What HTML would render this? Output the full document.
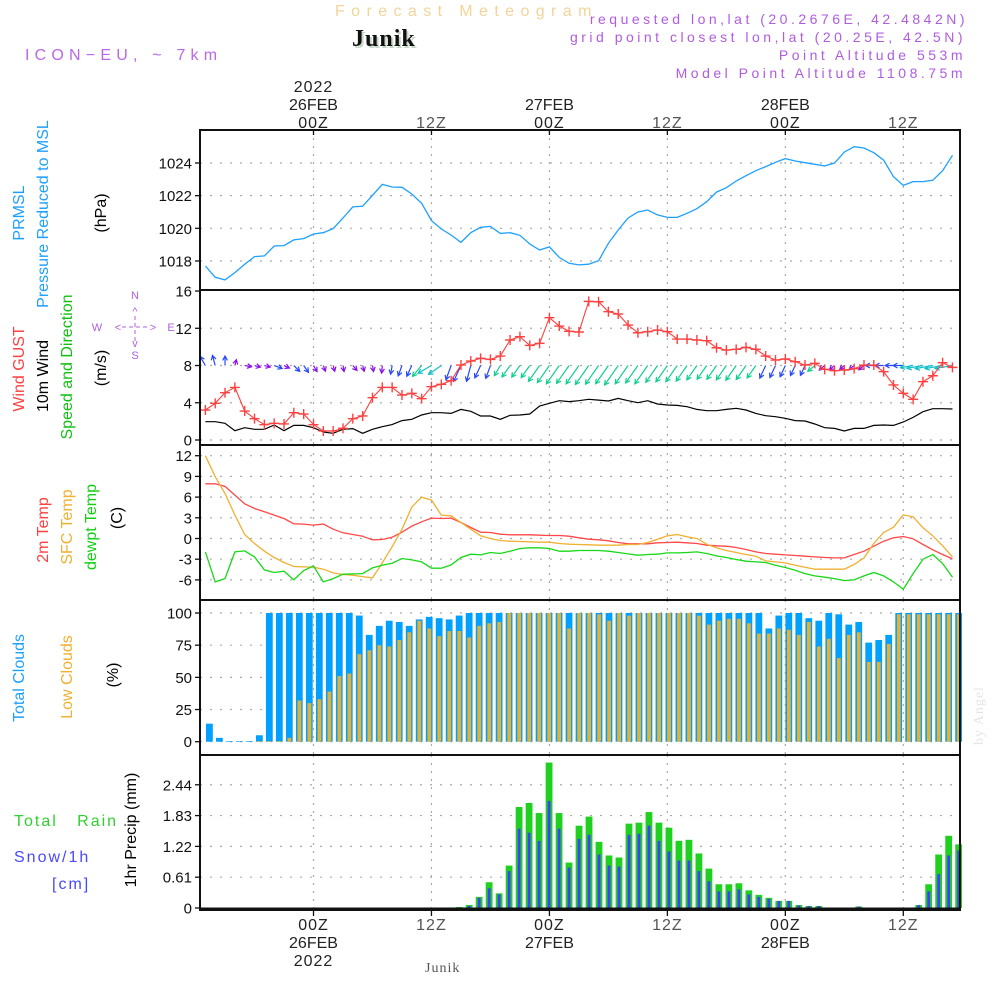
<!DOCTYPE html>
<html><head><meta charset="utf-8">
<style>
html,body{margin:0;padding:0;background:#fff;}
svg{display:block;font-family:"Liberation Sans",sans-serif;}
</style></head>
<body>
<svg id="chart" width="1000" height="1000" viewBox="0 0 1000 1000" xmlns="http://www.w3.org/2000/svg">
<rect width="1000" height="1000" fill="#fff"/>
<!-- header -->
<text x="335" y="16" font-size="16" fill="#f2d49a" letter-spacing="6.4">Forecast Meteogram</text>
<text x="354" y="48" font-size="24" font-weight="bold" font-family="Liberation Serif,serif" fill="#c8d8c8" letter-spacing="1">Junik</text>
<text x="352" y="46" font-size="24" font-weight="bold" font-family="Liberation Serif,serif" fill="#111" letter-spacing="1">Junik</text>
<text x="25" y="60" font-size="16" fill="#b868e8" letter-spacing="5.2">ICON−EU, ~ 7km</text>
<g font-size="14" fill="#b05ce0" text-anchor="end" letter-spacing="3.5">
<text x="968" y="24">requested lon,lat (20.2676E, 42.4842N)</text>
<text x="966" y="42">grid point closest lon,lat (20.25E, 42.5N)</text>
<text x="966" y="60">Point Altitude 553m</text>
<text x="966" y="78">Model Point Altitude 1108.75m</text>
</g>
<text x="425" y="972" font-size="14" font-family="Liberation Serif,serif" fill="#555" letter-spacing="1">Junik</text>
<text transform="translate(983,745) rotate(-90)" font-size="14" font-family="Liberation Serif,serif" fill="#e4e4e4" letter-spacing="1">by Angel</text>

<!-- left labels -->
<g font-size="16" text-anchor="middle">
<text transform="translate(24,213) rotate(-90)" fill="#1ea0ff">PRMSL</text>
<text transform="translate(48,214) rotate(-90)" fill="#1ea0ff">Pressure Reduced to MSL</text>
<text transform="translate(106,213) rotate(-90)" fill="#000">(hPa)</text>
<text transform="translate(24,369) rotate(-90)" fill="#ff4040">Wind GUST</text>
<text transform="translate(48,376) rotate(-90)" fill="#000">10m Wind</text>
<text transform="translate(72,367) rotate(-90)" fill="#10c010">Speed and Direction</text>
<text transform="translate(106,368) rotate(-90)" fill="#000">(m/s)</text>
<text transform="translate(48,530) rotate(-90)" fill="#ff4040">2m Temp</text>
<text transform="translate(72,527) rotate(-90)" fill="#f0b030">SFC Temp</text>
<text transform="translate(96,527) rotate(-90)" fill="#10d010">dewpt Temp</text>
<text transform="translate(122,518) rotate(-90)" fill="#000">(C)</text>
<text transform="translate(24,678) rotate(-90)" fill="#1ea0ff">Total Clouds</text>
<text transform="translate(72,677) rotate(-90)" fill="#f0b030">Low Clouds</text>
<text transform="translate(118,675) rotate(-90)" fill="#000">(%)</text>
<text transform="translate(136,830) rotate(-90)" fill="#000">1hr Precip (mm)</text>
</g>
<g font-size="16" letter-spacing="2">
<text x="14" y="826" fill="#30d030" xml:space="preserve">Total   Rain</text>
<text x="14" y="862" fill="#4848ff">Snow/1h</text>
<text x="52" y="889" fill="#4848ff">[cm]</text>
</g>
<g font-size="11" fill="#b060e0" text-anchor="middle">
<text x="135" y="299">N</text>
<text x="135" y="359">S</text>
<text x="97" y="331">W</text>
<text x="171" y="331">E</text>
<text x="135" y="315">^</text>
<text x="135" y="347">v</text>
<text x="118" y="331">&lt;</text>
<text x="153" y="331">&gt;</text>
<line x1="122" y1="327" x2="148" y2="327" stroke="#b060e0" stroke-dasharray="4,3"/>
<line x1="135" y1="316" x2="135" y2="341" stroke="#b060e0" stroke-dasharray="4,3"/>
</g>
<g id="grid"></g>
<g id="marks"></g>
<g id="axes"></g>
</svg>
<script>
// ===== data =====
const hours = [];
for (let h = -11; h <= 65; h++) hours.push(h);
const pressure = [1017.69,1017.0,1016.84,1017.29,1017.8,1018.27,1018.31,1018.92,1018.94,1019.29,1019.37,1019.65,1019.73,1019.98,1020.63,1021.31,1021.35,1022.02,1022.69,1022.53,1022.51,1022.1,1021.53,1020.47,1019.96,1019.59,1019.14,1019.73,1020.06,1020.12,1019.69,1019.73,1019.57,1019.04,1018.67,1018.86,1018.22,1017.86,1017.76,1017.8,1018.02,1019.08,1019.9,1020.63,1021.0,1021.12,1020.82,1020.67,1020.67,1020.92,1021.2,1021.63,1022.22,1022.49,1022.9,1023.22,1023.53,1023.78,1024.04,1024.27,1024.12,1024.02,1023.92,1023.82,1024.0,1024.67,1025.0,1024.92,1024.63,1024.18,1023.16,1022.63,1022.86,1022.86,1022.94,1023.53,1024.47];
const gust = [3.22,3.94,5.08,5.65,3.11,2.29,1.65,1.79,1.72,2.93,2.79,1.65,0.97,0.97,1.25,2.29,2.58,4.55,5.65,5.65,4.83,5.01,4.44,5.73,5.98,6.37,8.05,8.48,8.77,8.66,9.02,10.74,11.1,10.16,10.38,13.14,12.24,11.67,11.6,14.89,14.85,13.78,13.53,12.35,11.52,11.63,11.81,11.63,10.84,10.84,10.74,10.67,9.91,9.66,9.74,9.95,9.74,9.02,8.59,8.7,8.41,8.05,8.23,7.59,7.44,7.52,7.66,8.05,8.05,7.34,5.91,5.01,4.37,6.26,6.9,8.3,7.8];
const windSpeed = [1.97,1.97,1.79,1.0,1.32,1.15,1.15,1.61,1.0,1.57,1.57,1.32,0.86,0.72,1.15,1.22,0.72,1.15,1.43,1.65,2.08,2.22,2.68,2.93,2.93,2.86,3.29,3.08,2.58,2.58,2.22,2.65,2.68,2.79,3.65,3.94,4.22,4.12,4.22,4.37,4.29,4.19,4.47,4.22,4.01,4.22,3.87,3.76,3.72,3.58,3.29,3.15,3.15,3.29,3.4,3.22,2.86,2.61,2.5,2.33,2.08,2.04,1.72,1.32,1.25,0.97,1.25,1.25,1.57,1.61,1.57,1.93,2.43,3.04,3.36,3.36,3.33];
const windDir = [150,165,180,195,280,285,285,290,295,315,325,330,340,345,350,320,345,350,5,10,20,25,40,60,55,20,25,15,25,20,30,35,35,35,35,35,35,35,35,35,35,35,35,35,35,35,35,35,35,35,35,35,35,35,35,35,35,25,25,25,25,25,50,50,50,50,50,50,90,90,90,90,80,80,80,80,80];
const temp2m = [7.93,7.93,7.55,6.29,5.03,4.35,3.87,3.39,2.9,2.13,2.08,1.94,2.08,1.35,0.82,0.58,0.34,-0.19,-0.15,0.19,0.92,1.79,2.42,2.95,2.9,2.95,2.32,1.6,0.92,0.87,0.63,0.53,0.53,0.53,0.48,0.44,0.44,0.34,0.1,-0.1,-0.19,-0.34,-0.58,-0.77,-0.77,-0.77,-0.63,-0.58,-0.53,-0.63,-0.73,-0.97,-1.06,-1.11,-1.31,-1.6,-1.94,-2.18,-2.27,-2.37,-2.47,-2.56,-2.66,-2.76,-2.81,-2.81,-2.32,-1.84,-1.11,-0.39,0.1,0.29,-0.05,-0.87,-1.64,-2.32,-2.95];
const tempSfc = [12.0,8.95,6.53,3.39,0.58,-0.73,-1.84,-2.76,-3.48,-4.06,-4.11,-4.16,-4.45,-4.98,-5.22,-5.32,-5.52,-5.71,-3.53,-1.21,1.35,4.55,6.0,5.56,3.39,3.29,2.32,1.35,0.39,0.0,-0.29,-0.39,-0.44,-0.48,-0.53,-0.53,-0.73,-0.82,-0.87,-0.92,-0.97,-0.97,-0.97,-0.87,-0.87,-0.58,-0.1,0.39,0.58,0.24,0.0,-0.82,-1.35,-1.74,-2.03,-2.32,-2.56,-3.24,-3.39,-3.53,-3.87,-4.16,-4.45,-4.45,-4.45,-4.45,-3.77,-2.81,-0.73,0.87,1.64,3.43,3.14,1.55,0.39,-1.06,-2.66];
const dewpt = [-1.94,-6.29,-5.81,-1.94,-1.79,-2.66,-4.55,-4.93,-4.74,-6.0,-4.64,-3.97,-6.29,-5.81,-5.18,-5.13,-5.08,-4.26,-3.87,-3.58,-2.9,-3.1,-3.39,-4.31,-4.31,-3.82,-2.76,-2.27,-2.37,-2.03,-2.18,-1.84,-1.45,-1.35,-1.35,-1.45,-1.84,-1.84,-1.74,-1.74,-1.74,-1.84,-2.03,-2.23,-2.42,-2.32,-2.27,-2.08,-2.08,-2.03,-1.94,-2.18,-2.52,-2.76,-3.05,-3.29,-3.39,-3.48,-3.87,-4.21,-4.6,-5.08,-5.42,-5.61,-5.81,-6.1,-6.0,-5.42,-4.93,-5.42,-6.29,-7.35,-5.08,-3.0,-2.32,-3.63,-5.61];
const cloudTotal = [14,3,0.5,0.5,0.5,5,100,100,100,100,100,100,100,100,100,98,83,90,94,93,90,95,97,96,95,98,100,100,100,100,100,100,100,100,100,100,100,100,100,100,100,100,100,100,100,100,100,100,100,100,100,100,100,100,100,100,88,98,100,100,96,94,100,99,91,93,77,79,83,100,100,100,100,100,100,100];
const cloudLow = [0,0,0,0,0,0.5,0.5,0.5,3,32,30,33,39,51,53,68,71,75,74,79,85,94,88,82,86,86,81,90,92,93,100,100,100,100,100,100,88,100,100,99,94,100,98,100,100,100,100,100,100,98,91,94,95.5,95.5,92,84,84,88,87,83,93,74,80,65,83,85,62,62,76,99,99,99,99,99,99,99];
const rainTotal = [0,0,0,0,0,0,0,0,0,0,0,0,0,0,0,0,0,0,0,0,0,0,0,0,0.01,0.02,0.06,0.22,0.51,0.29,0.84,2.0,2.08,1.88,2.88,1.88,0.9,1.63,1.81,1.31,1.04,1.0,1.67,1.69,1.9,1.69,1.59,1.33,1.35,1.08,0.78,0.47,0.47,0.49,0.35,0.26,0.2,0.14,0.14,0.06,0.04,0.04,0.01,0.01,0.01,0.03,0,0,0,0,0,0.06,0.47,1.06,1.43,1.26];
const snowFall = [0,0,0,0,0,0,0,0,0,0,0,0,0,0,0,0,0,0,0,0,0,0,0,0,0,0.01,0.04,0.2,0.39,0.27,0.73,1.57,1.49,1.33,2.12,1.57,0.8,1.37,1.45,1.06,0.84,0.82,1.45,1.47,1.63,1.33,1.12,0.94,0.94,0.73,0.53,0.33,0.33,0.37,0.27,0.22,0.18,0.14,0.14,0.05,0.04,0.04,0.01,0.01,0.01,0.03,0,0,0,0,0,0.06,0.33,0.67,1.04,1.14];
const timeTicks = [0,12,24,36,48,60];
const timeLabels = ["00Z","12Z","00Z","12Z","00Z","12Z"];
const dayLabels = {0:"26FEB",24:"27FEB",48:"28FEB"};
const pressureTicks = [1018,1020,1022,1024];
const windTicks = [0,4,8,12,16];
const tempTicks = [12,9,6,3,0,-3,-6];
const cloudTicks = [0,25,50,75,100];
const precipTicks = [0,0.61,1.22,1.83,2.44];

// ===== scales =====
const X0 = 200, X1 = 960;
const xT = h => 313.5 + 9.83 * h;
const xB = k => 206 + k * 9.99;
const yP = v => 163 + (1024 - v) * 16.33;
const yW = v => 440 - v * 9.31;
const yT = v => 538.5 - v * 6.9;
const yC = v => 741.7 - v * 1.287;
const yR = v => 908 - v * 50.5;
const panels = [[130,290,yP,pressureTicks,v=>v],[290,445,yW,windTicks,v=>v],[445,600,yT,tempTicks,v=>v],[600,755,yC,cloudTicks,v=>v],[755,910,yR,precipTicks,v=>v.toFixed(2).replace(/^0\.00$/,"0")]];

const NS = "http://www.w3.org/2000/svg";
function mk(tag, attrs, parent) {
  const e = document.createElementNS(NS, tag);
  for (const k in attrs) e.setAttribute(k, attrs[k]);
  parent.appendChild(e);
  return e;
}
const grid = document.getElementById('grid');
const marks = document.getElementById('marks');
const axes = document.getElementById('axes');

// grid
panels.forEach(([top, bot, ys, ticks]) => {
  ticks.forEach(t => {
    const y = ys(t);
    if (y > top + 2 && y < bot - 2) {
      const g = mk('line', {x1: X0, x2: X1, y1: y, y2: y, stroke: '#aaa', 'stroke-width': 1.2, 'stroke-dasharray': '2,8'}, grid);
      
      
    }
  });
  timeTicks.forEach(h => {
    const g = mk('line', {x1: xT(h), x2: xT(h), y1: top, y2: bot, stroke: '#aaa', 'stroke-width': 1.2, 'stroke-dasharray': '2,6'}, grid);
    
    
  });
});

function path(arr, ys) {
  return arr.map((v, i) => (i ? 'L' : 'M') + xT(hours[i]).toFixed(1) + ',' + ys(v).toFixed(1)).join(' ');
}
let e;
e = mk('path', {d: path(pressure, yP), fill: 'none', stroke: '#1ea0ff', 'stroke-width': 1.3}, marks);



e = mk('path', {d: path(windSpeed, yW), fill: 'none', stroke: '#000', 'stroke-width': 1.2}, marks);



windDir.forEach((d, i) => {
  const sp = windSpeed[i];
  const to = (d + 180) * Math.PI / 180;
  const L = Math.max(6, 5.3 * sp);
  const x0 = xT(hours[i]), y0 = yW(8);
  const dx = Math.sin(to), dy = -Math.cos(to);
  const x1 = x0 + dx * L, y1 = y0 + dy * L;
  let col;
  if (sp < 1.5) col = '#8a10e8';
  else if (d >= 30 && d < 55) col = '#10d090';
  else if (d >= 55 && d < 88) col = '#10c0c8';
  else col = '#2848ff';
  const a = Math.atan2(dy, dx), hl = 5;
  const p = `M${x0},${y0} L${x1},${y1} M${x1 - hl*Math.cos(a-0.5)},${y1 - hl*Math.sin(a-0.5)} L${x1},${y1} L${x1 - hl*Math.cos(a+0.5)},${y1 - hl*Math.sin(a+0.5)}`;
  const ar = mk('path', {d: p, fill: 'none', stroke: col, 'stroke-width': 1.2}, marks);
  
  
});

e = mk('path', {d: path(gust, yW), fill: 'none', stroke: '#ff4040', 'stroke-width': 1.1}, marks);


gust.forEach((v, i) => {
  const x = xT(hours[i]), y = yW(v);
  const m = mk('path', {d: `M${x-5},${y} L${x+5},${y} M${x},${y-5} L${x},${y+5}`, stroke: '#ff4040', 'stroke-width': 1.4}, marks);
  
  
});

[[temp2m,'#ff4848','t2m-line'],[tempSfc,'#f0b030','sfc-temp-line'],[dewpt,'#18d818','dewpt-line']].forEach(([arr,c,n]) => {
  const l = mk('path', {d: path(arr, yT), fill: 'none', stroke: c, 'stroke-width': 1.3}, marks);
  
  
});

cloudTotal.forEach((v, k) => {
  const b = mk('rect', {x: xB(k), y: yC(v), width: 6.8, height: yC(0) - yC(v), fill: '#00a0ff'}, marks);
  
  
});
cloudLow.forEach((v, k) => {
  const b = mk('rect', {x: xB(k) + 1.6, y: yC(v), width: 3.8, height: yC(0) - yC(v), fill: '#e8b030'}, marks);
  
  
});

rainTotal.forEach((v, k) => {
  if (v <= 0) return;
  const b = mk('rect', {x: xB(k), y: yR(v), width: 6.8, height: yR(0) - yR(v), fill: '#20d020'}, marks);
  
  
});
snowFall.forEach((v, k) => {
  if (v <= 0) return;
  const b = mk('rect', {x: xB(k) + 2, y: yR(v), width: 2.8, height: yR(0) - yR(v), fill: '#4040ff'}, marks);
  
  
});

panels.forEach(([top, bot, ys, ticks, fmt]) => {
  const r = mk('rect', {x: X0, y: top, width: X1 - X0, height: bot - top, fill: 'none', stroke: '#111', 'stroke-width': 2}, axes);
  
  
  ticks.forEach(t => {
    const y = ys(t);
    const tk = mk('line', {x1: X0 - 5, x2: X0, y1: y, y2: y, stroke: '#111', 'stroke-width': 1.3}, axes);
    
    
    const lb = mk('text', {x: X0 - 8, y: y + 5.5, 'font-size': 15, 'text-anchor': 'end', fill: '#111'}, axes);
    
    
    lb.textContent = fmt(t);
  });
});
e = mk('line', {x1: X0, x2: X1, y1: 909, y2: 909, stroke: '#111', 'stroke-width': 3}, axes);



timeTicks.forEach((h, i) => {
  const x = xT(h);
  ['top','bottom'].forEach(side => {
    const tk = mk('line', {x1: x, x2: x, y1: side === 'top' ? 130 : 910, y2: side === 'top' ? 135 : 916, stroke: '#111', 'stroke-width': 1.3}, axes);
    
    
  });
  const gray = timeLabels[i] === '12Z' ? '#555' : '#222';
  const t1 = mk('text', {x: x, y: 128, 'font-size': 16, 'text-anchor': 'middle', fill: gray, 'letter-spacing': 1}, axes);
  
  
  t1.textContent = timeLabels[i];
  const b1 = mk('text', {x: x, y: 930, 'font-size': 16, 'text-anchor': 'middle', fill: gray, 'letter-spacing': 1}, axes);
  
  
  b1.textContent = timeLabels[i];
  if (dayLabels[h]) {
    const t2 = mk('text', {x: x, y: 110, 'font-size': 16, 'text-anchor': 'middle', fill: '#222'}, axes);
    
    
    t2.textContent = dayLabels[h];
    const b2 = mk('text', {x: x, y: 948, 'font-size': 16, 'text-anchor': 'middle', fill: '#222'}, axes);
    
    
    b2.textContent = dayLabels[h];
  }
  if (h === 0) {
    const t3 = mk('text', {x: x, y: 92, 'font-size': 16, 'text-anchor': 'middle', fill: '#222', 'letter-spacing': 1}, axes);
    
    
    t3.textContent = '2022';
    const b3 = mk('text', {x: x, y: 966, 'font-size': 16, 'text-anchor': 'middle', fill: '#222', 'letter-spacing': 1}, axes);
    
    
    b3.textContent = '2022';
  }
});
</script>
</body></html>
